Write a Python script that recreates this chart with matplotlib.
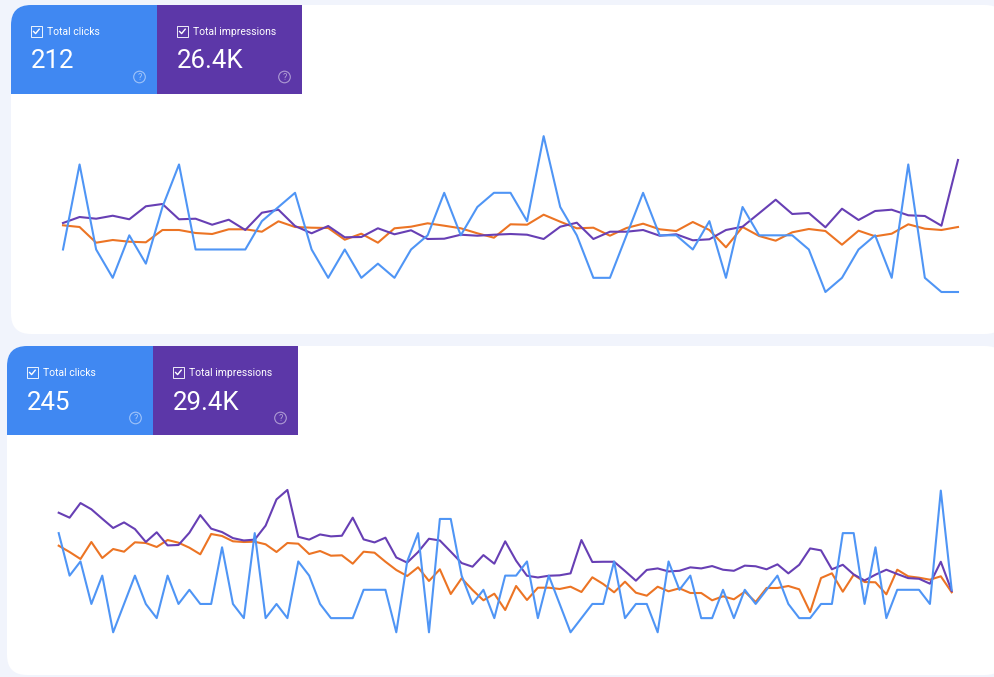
import matplotlib
matplotlib.use("Agg")
import matplotlib.pyplot as plt
from matplotlib.patches import Circle, FancyBboxPatch, Rectangle

plt.rcParams['font.family'] = ['Roboto', 'DejaVu Sans']

# first card, daily values
clicks_top = [3, 9, 3, 1, 4, 2, 6, 9, 3, 3, 3, 3, 5, 6, 7, 3, 1, 3, 1,
              2, 1, 3, 4, 7, 4, 6, 7, 7, 5, 11, 6, 4, 1, 1, 4, 7, 4,
              4, 3, 5, 1, 6, 4, 4, 4, 3, 0, 1, 3, 4, 1, 9, 1, 0, 0]
impressions_top = [483, 525, 513, 534, 509, 600, 616, 509, 513, 471, 506, 434, 555, 576, 462, 411, 462, 383, 385,
                   446, 404, 432, 371, 373, 401, 394, 401, 406, 401, 371, 457, 485, 371, 422, 422, 434, 394,
                   404, 362, 369, 434, 457, 551, 646, 546, 553, 453, 583, 504, 567, 576, 537, 532, 464, 924]
third_top = [6.67, 6.50, 4.93, 5.20, 5.03, 4.97, 6.20, 6.20, 5.90, 5.80, 6.27, 6.27, 6.03, 7.07, 6.50, 6.43, 6.40, 5.23, 5.83,
             4.93, 6.37, 6.53, 6.87, 6.63, 6.37, 5.87, 5.43, 6.77, 6.73, 7.73, 7.03, 6.37, 6.43, 5.63, 6.40, 6.83, 6.27,
             6.10, 7.00, 6.20, 4.47, 6.50, 5.60, 5.13, 5.97, 6.30, 6.10, 4.73, 6.13, 5.57, 5.83, 6.77, 6.33, 6.20, 6.50]

# second card, daily values
clicks_bottom = [7, 4, 5, 2, 4, 0, 2, 4, 2, 1, 4, 2, 3, 2, 2, 6, 2, 1, 7, 1, 2, 1, 5, 4, 2, 1, 1, 1,
                 3, 3, 3, 0, 5, 7, 0, 8, 8, 4, 2, 3, 1, 4, 4, 5, 1, 4, 2, 0, 1, 2, 2, 5, 1, 2, 2, 0,
                 5, 3, 4, 1, 1, 3, 1, 3, 2, 3, 4, 2, 1, 1, 2, 2, 7, 7, 2, 6, 1, 3, 3, 3, 2, 10, 3]
impressions_bottom = [556, 533, 601, 572, 528, 485, 511, 480, 420, 465, 404, 406, 463, 545, 482, 466, 438, 427, 431, 496, 618, 662, 444, 431, 455, 446, 449, 533,
                      432, 418, 440, 348, 324, 373, 435, 427, 375, 322, 305, 359, 319, 423, 333, 263, 255, 263, 265, 274, 429, 327, 328, 328, 285, 240, 290, 297,
                      283, 286, 302, 297, 308, 291, 286, 310, 307, 293, 316, 274, 314, 390, 381, 293, 314, 269, 241, 268, 291, 271, 252, 249, 226, 328, 192]
third_bottom = [8.66, 8.03, 7.33, 9.03, 7.43, 8.33, 8.06, 9.00, 8.93, 8.53, 9.23, 8.96, 8.46, 7.80, 9.83, 9.63, 9.10, 9.03, 9.06, 8.80, 8.03, 8.93, 8.86, 7.83, 8.13, 7.66, 7.70, 6.86,
                8.06, 7.96, 7.06, 6.23, 5.63, 6.50, 5.13, 6.30, 3.83, 5.40, 4.23, 3.20, 3.86, 2.23, 4.63, 3.23, 4.46, 4.46, 4.33, 4.56, 4.03, 5.50, 4.83, 4.00, 5.06, 3.96, 3.66, 4.56,
                4.10, 4.40, 3.93, 3.93, 3.20, 3.60, 3.30, 4.06, 3.03, 4.43, 4.43, 4.63, 4.30, 2.03, 5.43, 5.90, 4.06, 5.76, 5.03, 5.00, 3.80, 6.26, 5.60, 5.46, 5.26, 5.60, 4.00]

W, H = 994, 677
BG = '#f1f4fc'
TILE_BLUE = '#4088f2'
TILE_PURPLE = '#5c37a8'
LINE_BLUE = '#4f95f5'
LINE_PURPLE = '#673fb4'
LINE_ORANGE = '#ec7424'

fig = plt.figure(figsize=(W / 100, H / 100), dpi=100, facecolor=BG)

# full figure axes in pixel coordinates for the cards and tiles
bg = fig.add_axes([0, 0, 1, 1])
bg.set_xlim(0, W)
bg.set_ylim(H, 0)
bg.axis('off')


def draw_tile(left, top, width, height, color, label, total, clip):
    tile = Rectangle((left, top), width, height, color=color, lw=0, zorder=2)
    bg.add_patch(tile)
    tile.set_clip_path(clip)

    # checkbox
    bx, by = left + 20, top + 21
    bg.add_patch(Rectangle((bx, by), 10.5, 10.5, fill=False, ec='white', lw=0.7, alpha=0.9, zorder=3))
    bg.plot([bx + 2.6, bx + 4.6, bx + 8.2], [by + 5.5, by + 7.6, by + 3.2], color='white', lw=1.0, zorder=3)

    bg.text(left + 36, top + 26.8, label, color='white', fontsize=7.5, va='center', ha='left', zorder=3)
    bg.text(left + 20, top + 54.5 + 2, total, color='white', fontsize=18.6, va='center', ha='left', zorder=3)

    # help icon
    hx, hy = left + width - 17.5, top + 72
    bg.add_patch(Circle((hx, hy), 5.8, fill=False, ec='white', lw=0.8, alpha=0.5, zorder=3))
    bg.text(hx, hy + 0.2, '?', color='white', alpha=0.55, fontsize=6.5, ha='center', va='center', zorder=3)


def draw_card(left, top, bottom, clicks, impressions, third, totals, x0, x1, baseline, imp_per_px):
    card = FancyBboxPatch((left + 20, top + 20), 1005 - left - 40, bottom - top - 40,
                          boxstyle='round,pad=20,rounding_size=20', fc='white', ec='none', zorder=1)
    bg.add_patch(card)
    draw_tile(left, top, 146, 89, TILE_BLUE, 'Total clicks', totals[0], card)
    draw_tile(left + 146, top, 145, 89, TILE_PURPLE, 'Total impressions', totals[1], card)

    # one axes per metric, all share the same pixel box
    up, down = 170, 8
    rect = [x0 / W, (H - baseline - down) / H, (x1 - x0) / W, (up + down) / H]
    series = [(third, LINE_ORANGE, 0.1), (impressions, LINE_PURPLE, imp_per_px), (clicks, LINE_BLUE, 1 / 14.17)]
    for i, (values, color, per_px) in enumerate(series):
        ax = fig.add_axes(rect, label=f'{left}-{i}')
        ax.patch.set_alpha(0)
        ax.axis('off')
        ax.set_xlim(0, len(values) - 1)
        ax.set_ylim(-down * per_px, up * per_px)
        ax.plot(range(len(values)), values, color=color, lw=1.5, clip_on=False)


draw_card(11, 5, 334, clicks_top, impressions_top, third_top, ('212', '26.4K'), 63, 958, 292, 7)
draw_card(7, 346, 675, clicks_bottom, impressions_bottom, third_bottom, ('245', '29.4K'), 58.7, 951.7, 632.3, 4.65)

fig.savefig('out.png', dpi=100, facecolor=BG)
